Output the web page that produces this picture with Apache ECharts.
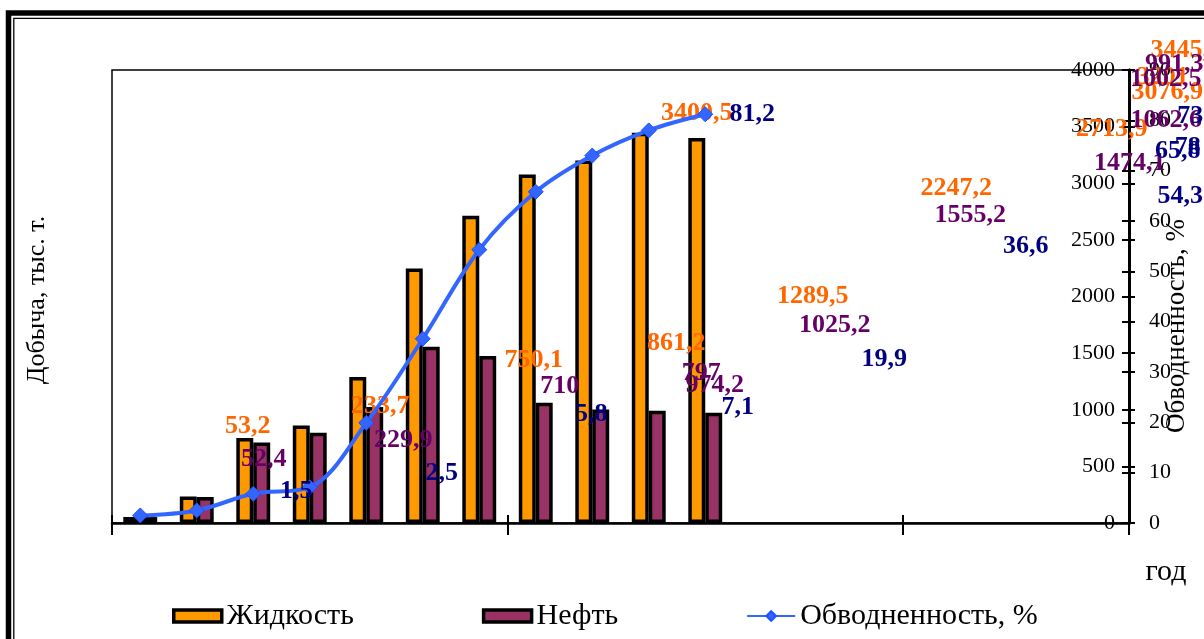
<!DOCTYPE html>
<html>
<head>
<meta charset="utf-8">
<script src="https://cdn.jsdelivr.net/npm/echarts@6/dist/echarts.min.js"></script>
<style>
  html, body { margin: 0; padding: 0; background: #fff; }
  #chart { width: 1204px; height: 639px; }
</style>
</head>
<body>
<div id="chart"></div>
<script>
// Periods on the category axis (only the first eleven carry data)
const periods = ['1','2','3','4','5','6','7','8','9','10','11','12','13','14','15','16','17','18'];

// Production, thousand tonnes
const liquid = [53.2, 233.7, 750.1, 861.2, 1289.5, 2247.2, 2713.9, 3076.9, 3201.0, 3445.1, 3400.5];
const oil    = [52.4, 229.9, 710, 797, 1025.2, 1555.2, 1474.1, 1062.6, 1002.5, 991.3, 974.2];
// Water cut, %
const waterCut = [1.5, 2.5, 5.8, 7.1, 19.9, 36.6, 54.3, 65.8, 73, 78, 81.2];

// Axis scales
const prodMax = 4000, prodStep = 500;
const cutMax = 90, cutStep = 10;

// Data-label displacement from each mark (px), as the labels were dragged in the source file
const liquidLabelShift = [[116,-91],[192,-90],[289,-78],[375,-82],[455,-81],[542,-80],[641,-86],[640,-82],[579,-83],[546,-83],[0,-25]];
const oilLabelShift    = [[115,-58],[198,-57],[298,-56],[383,-59],[460,-82],[539,-132],[642,-193],[622,-282],[565,-330],[517,-346],[1,-27]];
const cutLabelShift    = [[156,-24],[245,-37],[338,-80],[428,-80],[518,-64],[603,-92],[701,-53],[642,-41],[598,-39],[539,17],[47,0]];

const SERIF = '"Liberation Serif", "Times New Roman", serif';
const fmt = v => String(v).replace('.', ',');

function withLabels(values, shifts) {
  return values.map((v, i) => ({
    value: v,
    label: { offset: shifts[i] }
  }));
}

const chart = echarts.init(document.getElementById('chart'), null, { renderer: 'canvas' });

const labelBase = (color) => ({
  show: true,
  distance: 0,
  align: 'center',
  verticalAlign: 'middle',
  color: color,
  fontFamily: SERIF,
  fontWeight: 'bold',
  fontSize: 26,
  formatter: p => fmt(p.value)
});

const plainNumber = v => String(v);

chart.setOption({
  animation: false,
  backgroundColor: '#fff',
  grid: {
    left: 112, right: 75, top: 70, bottom: 116,
    show: true, borderColor: '#000', borderWidth: 1.5, backgroundColor: 'transparent'
  },
  legend: {
    left: 167, top: 596,
    itemWidth: 48, itemHeight: 12, itemGap: 128,
    textStyle: { fontFamily: SERIF, fontSize: 30, color: '#000' },
    data: [
      { name: 'Жидкость', icon: 'rect', itemStyle: { color: '#FF9900', borderColor: '#000', borderWidth: 3.5 } },
      { name: 'Нефть', icon: 'rect', itemStyle: { color: '#993366', borderColor: '#000', borderWidth: 3.5 } },
      { name: 'Обводненность, %' }
    ]
  },
  xAxis: [
    {
      type: 'category', data: periods, position: 'bottom', boundaryGap: true,
      axisLine: { show: true, lineStyle: { color: '#000', width: 2.5 } },
      axisTick: { show: true, interval: 6, length: 12, lineStyle: { color: '#000', width: 2 } },
      axisLabel: { show: false }, splitLine: { show: false }
    },
    {
      type: 'category', data: periods, position: 'bottom', boundaryGap: true,
      axisLine: { show: false },
      axisTick: { show: true, inside: true, interval: 6, length: 8, lineStyle: { color: '#000', width: 2 } },
      axisLabel: { show: false }, splitLine: { show: false }
    }
  ],
  yAxis: [
    {
      type: 'value', position: 'right', min: 0, max: prodMax, interval: prodStep,
      axisLine: { show: true, lineStyle: { color: '#000', width: 3 } },
      axisTick: { show: true, inside: true, length: 7, lineStyle: { color: '#000', width: 2 } },
      axisLabel: { inside: true, margin: 14, fontFamily: SERIF, fontSize: 22, color: '#000', formatter: plainNumber },
      splitLine: { show: false }
    },
    {
      type: 'value', position: 'right', min: 0, max: cutMax, interval: cutStep,
      axisLine: { show: true, lineStyle: { color: '#000', width: 3 } },
      axisTick: { show: true, length: 6, lineStyle: { color: '#000', width: 2 } },
      axisLabel: { margin: 20, fontFamily: SERIF, fontSize: 22, color: '#000', formatter: plainNumber },
      splitLine: { show: false }
    },
    {
      type: 'value', position: 'right', min: 0, max: prodMax, interval: prodStep,
      axisLine: { show: false },
      axisTick: { show: true, length: 6, lineStyle: { color: '#000', width: 2 } },
      axisLabel: { show: false }, splitLine: { show: false }
    },
    {
      type: 'value', position: 'right', min: 0, max: cutMax, interval: cutStep,
      axisLine: { show: false },
      axisTick: { show: true, inside: true, length: 7, lineStyle: { color: '#000', width: 2 } },
      axisLabel: { show: false }, splitLine: { show: false }
    }
  ],
  series: [
    {
      name: 'Жидкость', type: 'bar', xAxisIndex: 0, yAxisIndex: 0,
      barWidth: '30%', barGap: '0%',
      itemStyle: { color: '#FF9900', borderColor: '#000', borderWidth: 3.5 },
      label: Object.assign(labelBase('#FF6600'), { position: 'top' }),
      data: withLabels(liquid, liquidLabelShift)
    },
    {
      name: 'Нефть', type: 'bar', xAxisIndex: 0, yAxisIndex: 0,
      barWidth: '30%', barGap: '0%',
      itemStyle: { color: '#993366', borderColor: '#000', borderWidth: 3.5 },
      label: Object.assign(labelBase('#660066'), { position: 'top' }),
      data: withLabels(oil, oilLabelShift)
    },
    {
      name: 'Обводненность, %', type: 'line', xAxisIndex: 0, yAxisIndex: 1,
      smooth: 0.35, z: 3,
      symbol: 'diamond', symbolSize: 15,
      lineStyle: { color: '#3366FF', width: 4 },
      itemStyle: { color: '#3366FF', borderColor: '#1F4FFF', borderWidth: 1 },
      label: Object.assign(labelBase('#000080'), { position: 'inside' }),
      data: withLabels(waterCut, cutLabelShift)
    }
  ],
  graphic: [
    // double frame around the chart
    { type: 'rect', shape: { x: 8.5, y: 13, width: 1400, height: 800 },
      style: { fill: 'none', stroke: '#000', lineWidth: 5.5 }, silent: true },
    { type: 'rect', shape: { x: 13.8, y: 18.3, width: 1400, height: 800 },
      style: { fill: 'none', stroke: '#000', lineWidth: 1.3 }, silent: true },
    // axis titles
    { type: 'text', x: 37, y: 300, rotation: Math.PI / 2,
      style: { text: 'Добыча, тыс. т.', fontFamily: SERIF, fontSize: 26, fill: '#000',
               align: 'center', verticalAlign: 'middle' } },
    { type: 'text', x: 1177, y: 326, rotation: Math.PI / 2,
      style: { text: 'Обводненность, %', fontFamily: SERIF, fontSize: 27, fill: '#000',
               align: 'center', verticalAlign: 'middle' } },
    { type: 'text', x: 1166, y: 572,
      style: { text: 'год', fontFamily: SERIF, fontSize: 30, fill: '#000',
               align: 'center', verticalAlign: 'middle' } }
  ]
});
</script>
</body>
</html>
